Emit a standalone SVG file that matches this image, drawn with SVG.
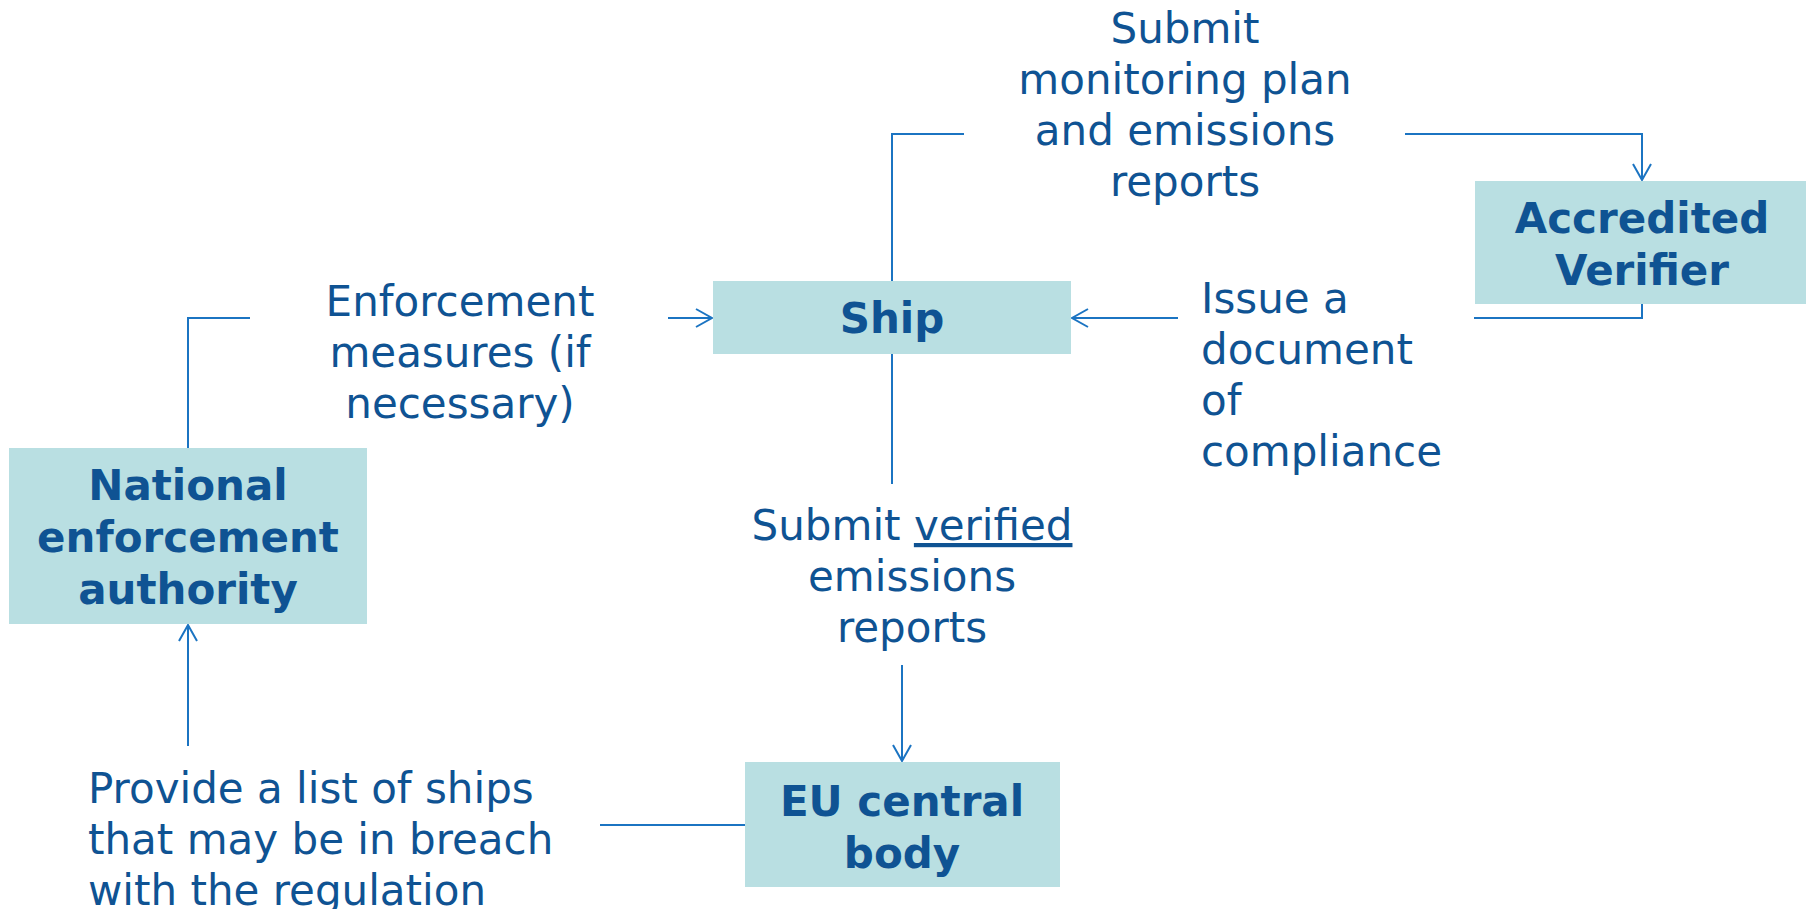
<svg xmlns="http://www.w3.org/2000/svg" width="1806" height="909" viewBox="0 0 1806 909">
<defs>
<style>
.box{fill:#B9DFE2;}
.bt{font-family:"DejaVu Sans","Liberation Sans",sans-serif;font-size:42px;font-weight:bold;fill:#0F5393;text-anchor:middle;}
.lt{font-family:"DejaVu Sans","Liberation Sans",sans-serif;font-size:42px;fill:#0F5393;}
.m{text-anchor:middle;}
.c{fill:none;stroke:#1B74C2;stroke-width:2;}
</style>
<marker id="ah" viewBox="0 0 20 20" refX="18" refY="10" markerWidth="20" markerHeight="20" markerUnits="userSpaceOnUse" orient="auto">
<path d="M2,1 L18,10 L2,19" fill="none" stroke="#1B74C2" stroke-width="2"/>
</marker>
</defs>
<rect width="1806" height="909" fill="#ffffff"/>

<g id="connectors">
<polyline class="c" points="892,281 892,134 964,134"/>
<polyline class="c" points="1405,134 1642,134 1642,180" marker-end="url(#ah)"/>
<polyline class="c" points="1642,304 1642,318 1474,318"/>
<line class="c" x1="1178" y1="318" x2="1072" y2="318" marker-end="url(#ah)"/>
<polyline class="c" points="188,448 188,318 250,318"/>
<line class="c" x1="668" y1="318" x2="712" y2="318" marker-end="url(#ah)"/>
<line class="c" x1="892" y1="354" x2="892" y2="484"/>
<line class="c" x1="902" y1="665" x2="902" y2="761" marker-end="url(#ah)"/>
<line class="c" x1="745" y1="825" x2="600" y2="825"/>
<line class="c" x1="188" y1="746" x2="188" y2="625" marker-end="url(#ah)"/>
</g>

<g id="ship">
<rect class="box" x="713" y="281" width="358" height="73"/>
<text class="bt" x="892" y="333">Ship</text>
</g>

<g id="verifier">
<rect class="box" x="1475" y="181" width="331" height="123"/>
<text class="bt" x="1642" y="233">Accredited</text>
<text class="bt" x="1642" y="285">Verifier</text>
</g>

<g id="nea">
<rect class="box" x="9" y="448" width="358" height="176"/>
<text class="bt" x="188" y="500">National</text>
<text class="bt" x="188" y="552">enforcement</text>
<text class="bt" x="188" y="604">authority</text>
</g>

<g id="eu">
<rect class="box" x="745" y="762" width="315" height="125"/>
<text class="bt" x="902" y="816">EU central</text>
<text class="bt" x="902" y="868">body</text>
</g>

<g id="labels">
<text class="lt m" x="1185" y="43">Submit</text>
<text class="lt m" x="1185" y="94">monitoring plan</text>
<text class="lt m" x="1185" y="145">and emissions</text>
<text class="lt m" x="1185" y="196">reports</text>

<text class="lt m" x="460" y="316">Enforcement</text>
<text class="lt m" x="460" y="367">measures (if</text>
<text class="lt m" x="460" y="418">necessary)</text>

<text class="lt" x="1201" y="313">Issue a</text>
<text class="lt" x="1201" y="364">document</text>
<text class="lt" x="1201" y="415">of</text>
<text class="lt" x="1201" y="466">compliance</text>

<text class="lt m" x="912" y="540">Submit <tspan text-decoration="underline">verified</tspan></text>
<text class="lt m" x="912" y="591">emissions</text>
<text class="lt m" x="912" y="642">reports</text>

<text class="lt" x="88" y="803">Provide a list of ships</text>
<text class="lt" x="88" y="854">that may be in breach</text>
<text class="lt" x="88" y="905">with the regulation</text>
</g>
</svg>
